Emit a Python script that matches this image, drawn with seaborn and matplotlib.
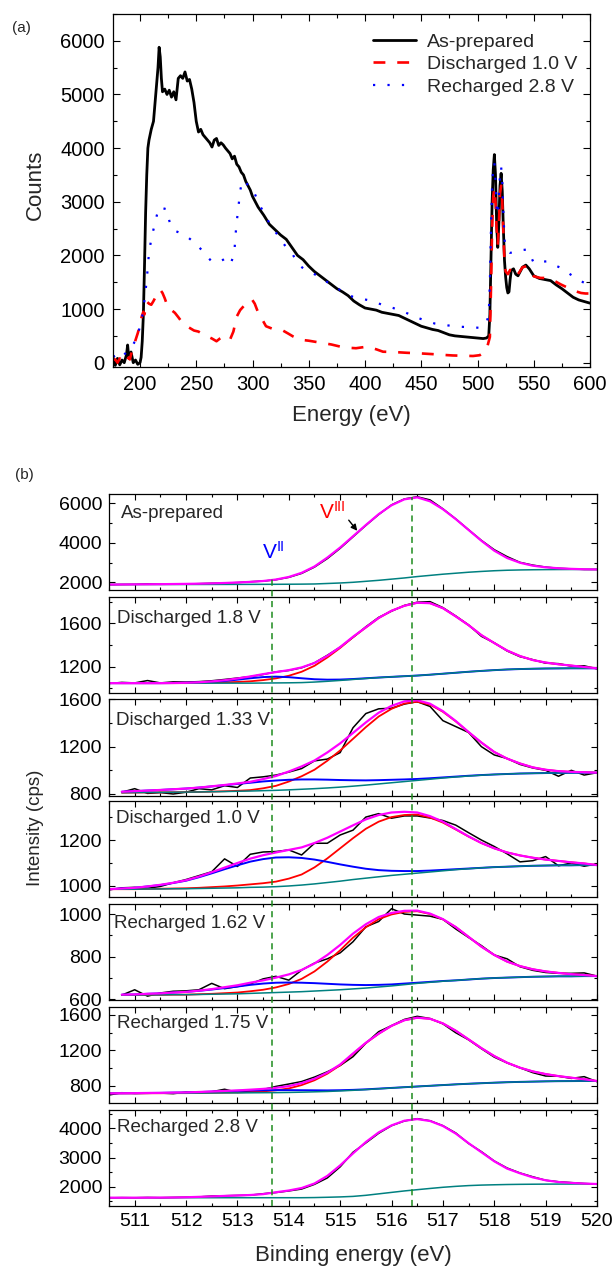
import numpy as np
import matplotlib
matplotlib.use("Agg")
import matplotlib.pyplot as plt
import seaborn as sns
from matplotlib.lines import Line2D
from matplotlib.ticker import MultipleLocator

# ---------------- Panel (a) data : (energy eV, counts) ----------------
AS_PREPARED = [(176,100),(178,-50),(180,80),(182,-40),(184,50),(186,0),(188,150),(189,330),(190,100),(192,200),
    (194,0),(196,50),(198,-30),(200,0),(201,100),(202,400),(203,900),(204,1800),(205,2800),(206,3500),(207,4000),
    (208,4150),(210,4350),(212,4500),(214,5000),(216,5500),(217,5880),(218,5700),(219,5300),(220,5050),(222,5100),
    (224,5000),(226,5080),(228,4950),(230,5050),(232,4900),(234,5300),(236,5350),(238,5300),(240,5420),(242,5250),
    (244,5280),(246,5100),(248,4850),(250,4500),(252,4300),(254,4350),(256,4250),(258,4200),(260,4150),(262,4100),
    (264,4020),(266,4150),(268,4180),(270,4050),(272,4100),(274,4060),(276,4000),(278,3950),(280,3900),(282,3800),
    (284,3850),(286,3700),(288,3650),(290,3550),(292,3500),(294,3380),(296,3300),(298,3220),(300,3100),(305,2900),
    (310,2750),(315,2580),(320,2480),(325,2380),(330,2300),(335,2150),(340,2000),(345,1920),(350,1800),(355,1700),
    (360,1620),(365,1540),(370,1460),(375,1380),(380,1320),(385,1250),(390,1150),(395,1080),(400,1020),(405,1000),
    (410,980),(415,940),(420,920),(425,900),(430,880),(435,830),(440,780),(445,730),(450,680),(455,650),(460,620),
    (465,600),(470,560),(475,520),(480,500),(485,490),(490,480),(495,470),(500,460),(505,450),(508,460),(510,500),
    (511,900),(512,2000),(513,3000),(514,3600),(515,3880),(516,3500),(517,2600),(518,2150),(519,2600),(520,3300),
    (521,3530),(522,3200),(523,2500),(524,1900),(525,1600),(526,1400),(527,1300),(528,1320),(529,1550),(530,1720),
    (532,1750),(534,1650),(536,1620),(538,1700),(540,1780),(543,1820),(546,1750),(550,1620),(555,1570),(560,1550),
    (565,1530),(570,1450),(575,1380),(580,1300),(585,1220),(590,1170),(595,1140),(600,1110)]

DISCHARGED_10 = [(176,50),(178,60),(180,0),(182,80),(184,40),(186,-20),(188,30),(190,100),(191,60),(192,150),
    (194,300),(196,420),(198,550),(200,700),(201.5,860),(203,950),(204,900),(206,1140),(208,1100),(210,1080),
    (212,1150),(215,1270),(218,1360),(220,1300),(222,1200),(225,1020),(228,980),(231,930),(234,850),(237,765),
    (240,700),(244,650),(248,600),(252,580),(256,530),(260,490),(264,450),(268,400),(271,450),(274,490),(277,460),
    (280,430),(283,580),(286,860),(289,980),(292,1050),(296,1140),(299.5,1180),(302,1100),(304,990),(306,900),
    (308,830),(312,680),(318,630),(322,620),(327,600),(332,540),(336,490),(342,430),(350,410),(360,375),(370,340),
    (378,300),(384,280),(392,270),(402,300),(410,250),(416,205),(425,200),(437,185),(448,175),(460,160),(470,145),
    (478,135),(487,130),(496,125),(502,140),(506.7,210),(509,320),(511,480),(512,1400),(513,2500),(514,3100),
    (515,3250),(516,3000),(517,2500),(518,2200),(519,2600),(520,3150),(521,3300),(522,3000),(523,2400),(524,1900),
    (525,1700),(527,1650),(529,1730),(531,1700),(534,1600),(537,1680),(540,1780),(544,1800),(547,1700),(550,1610),
    (556,1580),(562,1580),(568,1530),(574,1460),(580,1400),(586,1340),(592,1300),(596,1290),(600,1290)]

RECHARGED_28 = [(176,110),(178,130),(180,100),(182,150),(184,180),(186,150),(188,200),(190,250),(193,300),
    (195,380),(197,420),(199,600),(201.5,800),(203,1000),(204.4,1230),(206,1545),(208,2050),(210.4,2350),(213,2570),
    (215,2750),(217,2900),(220,2880),(224,2860),(226,2650),(228,2510),(232,2450),(235.6,2420),(239,2380),(243,2330),
    (246,2280),(249,2235),(252,2160),(255,2100),(258,2020),(261,1950),(264,1880),(267,1890),(271,1890),(274,1920),
    (277,1960),(280,1900),(281,1860),(283,2000),(284,2100),(285,2400),(286,2630),(287.5,2900),(289,3200),(291,3400),
    (294,3350),(297,3300),(300,3250),(303,3100),(306,2950),(310,2800),(315,2600),(319,2480),(325,2300),(330,2150),
    (335,2050),(340,1850),(345,1760),(350,1700),(355,1650),(360,1600),(370,1450),(380,1330),(389,1230),(395,1200),
    (402,1170),(410,1120),(418,1060),(425,1020),(433,960),(440,900),(446,840),(455,780),(462,730),(468,710),
    (475.6,690),(485,670),(495,660),(502,650),(508,745),(510,900),(511,1500),(512,2500),(513,3300),(514,3650),
    (515,3730),(516,3400),(517,2900),(518,2750),(519,3100),(520,3500),(521,3650),(522,3400),(523,2800),(524,2300),
    (525,2150),(527,2080),(528.7,2050),(532,2050),(536,2080),(540,2100),(544,2110),(547,2000),(550,1860),(556,1880),
    (562,1890),(568,1820),(574,1770),(580,1680),(586,1600),(592,1520),(598.6,1450),(600,1440)]

LEGEND_LABELS = ["As-prepared", "Discharged 1.0 V", "Recharged 2.8 V"]

# ---------------- Panel (b) data : binding energy grid 510.5 ... 520 eV, step 0.25 ----------------
BE = np.round(np.arange(510.5, 520.001, 0.25), 2)
nan = np.nan

P1_DATA = [1880,1890,1895,1920,1900,1905,1915,1930,1950,1960,1985,2030,2060,2130,2250,2450,2770,3200,3720,4300,4880,5430,5920,6220,6330,6170,5720,5210,4660,4120,3650,3300,3010,2870,2770,2710,2680,2650,2650]
P1_FIT = [1885,1890,1895,1900,1905,1912,1920,1930,1945,1965,1990,2020,2065,2140,2270,2480,2800,3250,3760,4330,4900,5450,5900,6200,6300,6100,5700,5200,4650,4100,3600,3230,2990,2840,2760,2710,2680,2660,2650]
P1_BG = [1885,1886,1887,1888,1889,1890,1890,1891,1892,1893,1894,1895,1897,1899,1902,1907,1915,1940,1965,2000,2050,2100,2160,2220,2290,2350,2410,2460,2510,2550,2585,2610,2625,2635,2642,2646,2648,2650,2650]

P2_DATA = [1045,1055,1050,1072,1050,1060,1058,1062,1070,1082,1095,1108,1128,1152,1165,1190,1235,1305,1380,1470,1568,1655,1712,1765,1795,1800,1745,1668,1585,1480,1420,1345,1292,1265,1232,1228,1205,1208,1180]
P2_FIT = [1048,1048,1048,1048,1048,1049,1051,1056,1064,1075,1091,1110,1131,1150,1168,1193,1234,1300,1381,1476,1563,1650,1716,1762,1790,1786,1740,1664,1583,1491,1418,1349,1298,1261,1238,1222,1210,1197,1185]
P2_BG = [1048,1048,1048,1048,1048,1048,1048,1048,1048,1048,1048,1048,1049,1050,1051,1053,1058,1065,1073,1082,1091,1099,1106,1112,1118,1126,1135,1144,1153,1161,1168,1174,1178,1181,1183,1184,1185,1185,1185]
P2_V3 = [1048,1048,1048,1048,1048,1048,1048,1050,1052,1055,1059,1065,1076,1092,1116,1153,1208,1285,1373,1472,1561,1649,1716,1762,1790,1786,1740,1664,1583,1491,1418,1349,1298,1261,1238,1222,1210,1197,1185]
P2_V2 = [1048,1048,1048,1048,1048,1049,1051,1054,1060,1068,1080,1093,1104,1108,1103,1093,1084,1080,1081,1086,1093,1100,1106,1112,1118,1126,1135,1144,1153,1161,1168,1174,1178,1181,1183,1184,1185,1185,1185]

P3_DATA = [nan,815,845,805,812,800,815,845,835,870,855,935,945,960,985,1015,1080,1095,1150,1360,1480,1520,1525,1560,1580,1540,1420,1370,1320,1200,1130,1100,1050,1020,1000,950,1000,960,980]
P3_FIT = [nan,819,824,829,834,840,846,854,865,876,889,903,926,952,990,1033,1083,1151,1228,1316,1405,1487,1545,1583,1592,1563,1500,1417,1324,1235,1155,1099,1058,1025,1005,993,987,984,980]
P3_BG = [nan,811,812,813,814,815,816,817,819,821,823,825,828,831,835,840,845,851,858,866,875,885,895,905,915,925,935,944,952,959,965,969,973,975,977,978,979,980,980]
P3_V3 = [nan,811,812,813,814,815,816,817,820,823,827,833,848,869,905,950,1005,1081,1168,1266,1365,1455,1520,1565,1580,1555,1495,1414,1322,1234,1155,1099,1058,1025,1005,993,987,984,980]
P3_V2 = [nan,819,824,829,834,840,846,854,864,874,885,895,906,914,920,923,923,921,918,916,915,917,920,923,927,933,940,947,954,960,965,969,973,975,977,978,979,980,980]

P4_DATA = [983,992,994,990,998,1014,1028,1045,1062,1118,1085,1138,1148,1150,1157,1135,1186,1186,1222,1243,1300,1315,1295,1305,1305,1296,1285,1265,1232,1200,1172,1140,1105,1110,1128,1088,1100,1086,1096]
P4_FIT = [986,989,992,998,1005,1014,1025,1041,1060,1080,1100,1119,1134,1146,1157,1168,1187,1210,1237,1264,1290,1309,1320,1323,1320,1304,1280,1248,1216,1187,1164,1146,1133,1123,1115,1109,1103,1098,1091]
P4_BG = [986,986,986,987,987,988,988,989,990,991,992,994,995,997,1000,1004,1009,1015,1021,1028,1034,1040,1046,1051,1056,1061,1066,1071,1075,1079,1082,1084,1086,1088,1089,1090,1090,1091,1091]
P4_V3 = [986,986,986,987,988,989,990,992,995,998,1002,1007,1012,1019,1032,1050,1081,1120,1164,1208,1249,1280,1300,1309,1311,1298,1276,1246,1215,1187,1164,1146,1133,1123,1115,1109,1103,1098,1091]
P4_V2 = [986,989,992,998,1004,1013,1023,1038,1055,1073,1090,1106,1117,1124,1125,1122,1115,1105,1094,1084,1075,1069,1066,1065,1065,1067,1070,1073,1076,1079,1082,1084,1086,1088,1089,1090,1090,1091,1091]

P5_DATA = [nan,620,645,615,630,638,640,645,675,650,660,672,696,708,690,737,770,790,818,870,940,965,1025,1000,995,990,975,930,890,852,808,790,753,736,726,722,722,724,709]
P5_FIT = [nan,622,623,626,628,632,635,641,648,657,666,678,689,702,717,738,768,808,855,908,952,986,1005,1015,1016,1002,976,939,893,847,808,777,756,741,731,724,718,714,709]
P5_BG = [nan,620,620,621,621,622,622,623,624,625,626,628,630,632,634,636,639,642,645,649,653,658,663,669,675,680,685,689,693,697,700,702,704,706,707,708,708,709,709]
P5_V3 = [nan,620,620,621,621,622,622,624,626,629,632,638,645,656,672,696,731,777,830,889,938,976,998,1010,1013,1000,975,939,893,847,808,777,756,741,731,724,718,714,709]
P5_V2 = [nan,622,623,626,628,632,635,640,646,653,660,668,674,678,679,678,676,673,670,668,667,668,670,674,678,682,686,689,693,697,700,702,704,706,707,708,708,709,709]

P6_DATA = [698,724,716,717,720,713,730,724,735,763,728,740,760,795,822,850,900,960,1030,1130,1281,1412,1480,1550,1585,1560,1500,1400,1320,1220,1125,1060,1005,950,912,910,885,905,848]
P6_FIT = [717,718,719,721,722,725,727,732,738,744,750,758,767,779,798,832,881,950,1042,1166,1287,1390,1478,1541,1569,1557,1505,1423,1325,1226,1137,1062,1006,964,934,911,893,876,856]
P6_BG = [717,717,717,718,718,719,719,720,721,722,722,723,724,725,727,730,734,738,744,751,759,768,777,786,794,802,810,818,825,831,837,842,846,849,852,854,855,856,856]
P6_V3 = [717,717,717,718,718,719,719,721,723,725,727,732,739,751,772,810,864,938,1034,1161,1284,1388,1477,1541,1569,1557,1505,1423,1325,1226,1137,1062,1006,964,934,911,893,876,856]
P6_V2 = [717,718,719,721,722,725,727,731,736,741,745,749,752,753,753,752,751,750,752,756,762,770,778,786,794,802,810,818,825,831,837,842,846,849,852,854,855,856,856]

P7_DATA = [1618,1625,1620,1630,1622,1632,1640,1650,1680,1690,1700,1710,1760,1800,1855,1920,2080,2300,2680,3180,3500,3830,4090,4250,4330,4260,4090,3840,3480,3200,2880,2640,2470,2340,2220,2170,2140,2110,2090]
P7_FIT = [1623,1623,1623,1625,1627,1630,1638,1652,1668,1684,1700,1715,1745,1810,1870,1955,2110,2370,2730,3140,3530,3860,4100,4260,4315,4250,4080,3820,3490,3180,2870,2620,2460,2320,2220,2160,2130,2108,2092]
P7_BG = [1623,1623,1623,1623,1623,1623,1623,1623,1623,1623,1623,1623,1623,1623,1623,1623,1628,1638,1650,1668,1705,1755,1805,1855,1898,1940,1980,2012,2038,2055,2066,2075,2081,2085,2088,2090,2091,2092,2092]

PANEL_LABELS = ["As-prepared", "Discharged 1.8 V", "Discharged 1.33 V", "Discharged 1.0 V",
                "Recharged 1.62 V", "Recharged 1.75 V", "Recharged 2.8 V"]
V2_POS = 513.67
V3_POS = 516.40

# ---------------- style ----------------
sns.set_theme(style="ticks")
plt.rcParams['font.family'] = ['Liberation Sans', 'DejaVu Sans']
plt.rcParams['mathtext.fontset'] = 'custom'
plt.rcParams['mathtext.rm'] = 'Liberation Sans'
plt.rcParams['mathtext.it'] = 'Liberation Sans:italic'
plt.rcParams['mathtext.bf'] = 'Liberation Sans:bold'
plt.rcParams['axes.linewidth'] = 0.9
plt.rcParams['axes.edgecolor'] = 'black'

W, H = 614, 1270
fig = plt.figure(figsize=(W / 100, H / 100), dpi=100)
fig.patch.set_facecolor('white')


def rect(x0, y0, x1, y1):
    return [x0 / W, 1 - y1 / H, (x1 - x0) / W, (y1 - y0) / H]


def style_ticks(ax, size, major, minor, pad):
    ax.tick_params(which='both', direction='in', top=True, right=True, colors='black',
                   labelsize=size, width=0.8)
    ax.tick_params(which='major', length=major, pad=pad)
    ax.tick_params(which='minor', length=minor)


# ---------------- Panel (a) ----------------
axa = fig.add_axes(rect(113, 14, 590, 367))
series_a = [(AS_PREPARED, 'black', 2.0, '-'),
            (DISCHARGED_10, '#ff0000', 1.9, (0, (4.5, 4.5))),
            (RECHARGED_28, '#0000ff', 1.6, (0, (1.0, 5.5)))]
for (pts, col, lw, ls), lab in zip(series_a, LEGEND_LABELS):
    e = [p[0] for p in pts]
    c = [p[1] for p in pts]
    sns.lineplot(x=e, y=c, ax=axa, color=col, lw=lw, ls=ls, estimator=None, sort=False, label=lab)
axa.set_xlim(176, 600)
axa.set_ylim(-80, 6500)
axa.xaxis.set_major_locator(MultipleLocator(50))
axa.xaxis.set_minor_locator(MultipleLocator(25))
axa.yaxis.set_major_locator(MultipleLocator(1000))
axa.yaxis.set_minor_locator(MultipleLocator(500))
style_ticks(axa, 14.5, 5, 3, 6)
axa.set_xlabel('')
axa.set_ylabel('')
leg = axa.legend(loc='upper left', bbox_to_anchor=(373 / W, 1 - 33 / H), bbox_transform=fig.transFigure,
                 frameon=False, fontsize=14, handlelength=2.2, handletextpad=0.6, labelspacing=0.25,
                 borderpad=0, borderaxespad=0)

fig.text(12 / W, 1 - 28 / H, '(a)', fontsize=11, va='center', ha='left')
fig.text(35 / W, 1 - 185 / H, 'Counts', fontsize=16, rotation=90, va='center', ha='center')
fig.text(351 / W, 1 - 415 / H, 'Energy (eV)', fontsize=16, va='center', ha='center')

# ---------------- Panel (b) ----------------
panel_px = [(494, 590), (597, 693), (699, 796), (801, 897), (904, 1000), (1007, 1103), (1110, 1206)]
ylims = [(1610, 6470), (957, 1843), (783, 1603), (952, 1370), (597, 1047), (608, 1690), (1339, 4627)]
yticks = [(2000, 1000), (400, 200), (400, 200), (200, 100), (200, 100), (400, 200), (1000, 500)]
label_pos = [(0.025, 0.80), (0.016, 0.78), (0.014, 0.775), (0.014, 0.82), (0.010, 0.80), (0.016, 0.83), (0.016, 0.82)]

panels = [
    (P1_DATA, P1_FIT, P1_BG, None, None),
    (P2_DATA, P2_FIT, P2_BG, P2_V3, P2_V2),
    (P3_DATA, P3_FIT, P3_BG, P3_V3, P3_V2),
    (P4_DATA, P4_FIT, P4_BG, P4_V3, P4_V2),
    (P5_DATA, P5_FIT, P5_BG, P5_V3, P5_V2),
    (P6_DATA, P6_FIT, P6_BG, P6_V3, P6_V2),
    (P7_DATA, P7_FIT, P7_BG, None, None),
]

axes_b = []
for i, ((top, bot), (d, f, bg, v3, v2)) in enumerate(zip(panel_px, panels)):
    ax = fig.add_axes(rect(109, top, 597, bot))
    axes_b.append(ax)
    sns.lineplot(x=BE, y=np.array(d, float), ax=ax, color='black', lw=1.1, estimator=None, sort=False)
    if v3 is not None:
        sns.lineplot(x=BE, y=np.array(v3, float), ax=ax, color='#ff0000', lw=1.3, estimator=None, sort=False)
    if v2 is not None:
        sns.lineplot(x=BE, y=np.array(v2, float), ax=ax, color='#0000ff', lw=1.4, estimator=None, sort=False)
    sns.lineplot(x=BE, y=np.array(bg, float), ax=ax, color='#008080', lw=1.1, estimator=None, sort=False)
    sns.lineplot(x=BE, y=np.array(f, float), ax=ax, color='#ff00ff', lw=1.6, estimator=None, sort=False)
    ax.set_xlim(510.5, 520)
    ax.set_ylim(*ylims[i])
    ax.xaxis.set_major_locator(MultipleLocator(1))
    ax.xaxis.set_minor_locator(MultipleLocator(0.5))
    ax.yaxis.set_major_locator(MultipleLocator(yticks[i][0]))
    ax.yaxis.set_minor_locator(MultipleLocator(yticks[i][1]))
    style_ticks(ax, 14, 4, 2.5, 5)
    ax.set_xlabel('')
    ax.set_ylabel('')
    if i < 6:
        ax.tick_params(labelbottom=False)
    ax.text(label_pos[i][0], label_pos[i][1], PANEL_LABELS[i], transform=ax.transAxes,
            fontsize=13.5, va='center', ha='left')

fig.text(15 / W, 1 - 475 / H, '(b)', fontsize=11, va='center', ha='left')
fig.text(35 / W, 1 - 828 / H, 'Intensity (cps)', fontsize=13.5, rotation=90, va='center', ha='center')
fig.text(353 / W, 1 - 1255 / H, 'Binding energy (eV)', fontsize=16, va='center', ha='center')

# V^II / V^III labels and arrow
fig.text(262 / W, 1 - 552 / H, r'V$^{\mathrm{II}}$', fontsize=15, color='#0000ff', va='center', ha='left')
fig.text(319 / W, 1 - 512 / H, r'V$^{\mathrm{III}}$', fontsize=15, color='#ff0000', va='center', ha='left')
fig.add_artist(matplotlib.patches.FancyArrowPatch(
    (347 / W, 1 - 518 / H), (359 / W, 1 - 533 / H), transform=fig.transFigure,
    arrowstyle='-|>', mutation_scale=9, color='black', lw=1.0))

# green dashed guide lines through the stacked panels
inv = fig.transFigure.inverted()
ax_bot = axes_b[-1]
for xpos, ytop_px in [(V2_POS, 579), (V3_POS, 497)]:
    xf = inv.transform(ax_bot.transData.transform((xpos, ylims[-1][0])))[0]
    yf_bot = 1 - panel_px[-1][1] / H
    yf_top = 1 - ytop_px / H
    fig.add_artist(Line2D([xf, xf], [yf_bot, yf_top], transform=fig.transFigure,
                          color='#1e8c1e', lw=1.1, ls=(0, (4, 3))))

fig.savefig('out.png', dpi=100, facecolor='white')
